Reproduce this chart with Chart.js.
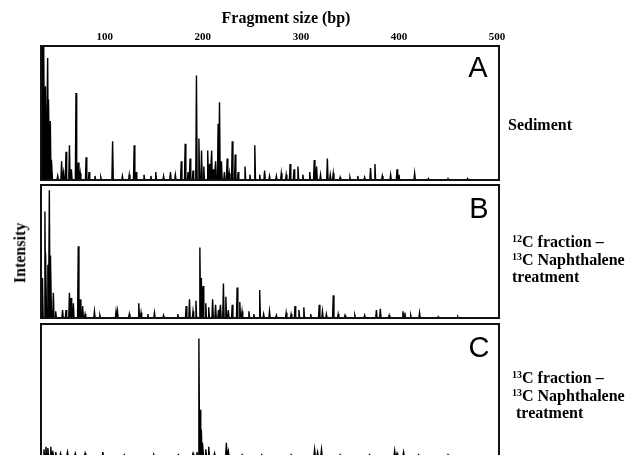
<!DOCTYPE html>
<html>
<head>
<meta charset="utf-8">
<script src="https://cdn.jsdelivr.net/npm/chart.js@4.4.1/dist/chart.umd.min.js"></script>
<style>
  body { margin: 0; width: 637px; height: 455px; overflow: hidden; background: #fff; position: relative; font-family: "Liberation Serif", "Times New Roman", serif; }
  canvas { position: absolute; left: 0; }
  .lbl { position: absolute; font-weight: bold; font-size: 16px; line-height: 17.5px; color: #000; white-space: nowrap; }
  .letter { position: absolute; font-family: "Liberation Sans", Arial, sans-serif; font-size: 29px; transform: translate(-50%, -50%); }
  sup { font-size: 10px; vertical-align: 5px; line-height: 0; }
</style>
</head>
<body>
<canvas id="chartA" width="637" height="181" style="top:0"></canvas>
<canvas id="chartB" width="637" height="135" style="top:184px"></canvas>
<canvas id="chartC" width="637" height="140" style="top:323px"></canvas>

<div class="lbl" style="left:286px; top:18px; transform:translate(-50%,-50%)">Fragment size (bp)</div>
<div class="lbl" style="left:20px; top:253px; transform:translate(-50%,-50%) rotate(-90deg)">Intensity</div>

<div class="letter" style="left:478px; top:67px">A</div>
<div class="letter" style="left:479px; top:208px">B</div>
<div class="letter" style="left:479px; top:347px">C</div>

<div class="lbl" style="left:508px; top:125px; transform:translateY(-50%)">Sediment</div>
<div class="lbl" style="left:512px; top:259px; transform:translateY(-50%)"><sup>12</sup>C fraction &ndash;<br><sup>13</sup>C Naphthalene<br>treatment</div>
<div class="lbl" style="left:512px; top:395px; transform:translateY(-50%)"><sup>13</sup>C fraction &ndash;<br><sup>13</sup>C Naphthalene<br>&nbsp;treatment</div>

<script>
// fragment size axis (bp)
const sizeMin = 35;
const sizeMax = 502;
const axisTicks = [100, 200, 300, 400, 500];

// A: sediment
const sizesA = [36.5, 38, 39.5, 41.8, 43, 44.5, 46, 52, 56, 58, 60.5, 64, 66, 70.7, 73, 75, 81, 84, 90, 96,
  108, 118, 125, 130, 132, 140, 147, 152, 160, 167, 172, 178, 182, 185, 187, 190, 193.5, 196, 198.7,
  201, 205, 207, 209, 211, 213, 215.6, 217, 219, 222, 224.8, 227, 230, 233, 236, 243, 248, 253, 258,
  263, 268, 275, 280, 285, 289, 293, 297, 302, 309, 313.6, 316, 320, 327, 330, 333, 340, 350, 358,
  365, 371, 375.5, 383, 391.5, 398, 400, 416, 430, 450, 470];
const intensA = [100, 110, 70, 91, 60, 44, 15, 3, 14, 6, 21, 26, 8, 65, 13, 5, 17, 6, 3, 2,
  29, 3, 4, 26, 6, 4, 3, 6, 3, 6, 4, 14, 27, 6, 16, 7, 78, 31, 22,
  10, 22, 12, 22, 8, 14, 42, 58, 14, 6, 16, 5, 29, 19, 6, 10, 4, 26, 4,
  7, 3, 3, 5, 4, 12, 8, 10, 4, 6, 15, 10, 4, 16, 4, 5, 2, 2, 3,
  2, 9, 12, 3, 4, 8, 4, 5, 1, 1, 1];

// B: 12C fraction, 13C naphthalene
const sizesB = [36.5, 39, 40, 42, 43.5, 45, 47.6, 50, 57, 60.5, 64, 65.6, 68, 73, 75, 77.5, 80, 89.5, 95,
  111.5, 113, 125, 134.7, 137, 144, 150.7, 160, 174.5, 183, 186.4, 190, 193, 197, 198.5, 200.3, 203,
  206, 210, 213, 216, 218, 221, 223.5, 226, 230, 235, 237.7, 240, 247, 252, 258, 262, 268, 275, 285,
  290, 294, 298, 303, 310, 318.7, 322, 326, 333, 338, 345, 355, 365, 377, 381, 390, 404, 406, 412,
  421, 440, 460];
const intensB = [30, 80, 49, 40, 96, 47, 19, 5, 6, 6, 19, 15, 11, 54, 14, 9, 3, 5, 2,
  5, 5, 3, 11, 4, 3, 4, 2, 3, 9, 14, 5, 13, 53, 30, 24, 11,
  8, 14, 10, 6, 10, 26, 16, 6, 10, 23, 12, 5, 5, 3, 21, 3, 5, 2, 4,
  3, 9, 6, 8, 3, 10, 5, 3, 17, 3, 2, 2, 2, 6, 7, 2, 5, 4, 2,
  4, 1, 1];

// C: 13C fraction, 13C naphthalene
const sizesC = [38, 40, 42, 45, 47, 50, 55, 62, 70, 80, 98, 120, 150, 175, 190, 194, 196, 197.3, 198.5,
  200, 203, 206, 212, 224, 226, 240, 260, 290, 314, 317, 321, 340, 370, 395.6, 398, 404.7, 420, 450];
const intensC = [5, 7, 6, 7, 4, 3, 2, 3, 2, 2, 3, 1, 1, 1, 2, 3, 89, 35, 20,
  10, 5, 7, 2, 10, 4, 1, 1, 1, 5, 3, 5, 1, 1, 4, 2, 3, 1, 1];

function buildTrace(sizes, heights) {
  const pts = [{ x: sizeMin, y: 0 }];
  sizes.map((s, i) => [s, heights[i]]).sort((a, b) => a[0] - b[0]).forEach(([s, h]) => {
    pts.push({ x: s - 0.7, y: 0 }, { x: s, y: h }, { x: s + 0.7, y: 0 });
  });
  pts.push({ x: sizeMax, y: 0 });
  return pts;
}

const frame = {
  id: 'frame',
  afterDraw(chart) {
    const a = chart.chartArea;
    const ctx = chart.ctx;
    ctx.save();
    ctx.strokeStyle = '#111';
    ctx.lineWidth = 2;
    ctx.strokeRect(a.left, a.top, a.right - a.left, a.bottom - a.top);
    ctx.restore();
  }
};

const makePanel = (id, sizes, heights, showAxis, padTop, padBottom) => {
  return new Chart(document.getElementById(id), {
    type: 'line',
    data: {
      datasets: [{
        data: buildTrace(sizes, heights),
        borderColor: '#000',
        backgroundColor: '#000',
        borderWidth: 1.4,
        fill: 'origin',
        pointRadius: 0,
        tension: 0
      }]
    },
    options: {
      responsive: false,
      animation: false,
      layout: { padding: { left: 41, right: 138, top: padTop, bottom: padBottom } },
      plugins: { legend: { display: false }, tooltip: { enabled: false } },
      scales: {
        x: {
          type: 'linear',
          position: 'top',
          min: sizeMin,
          max: sizeMax,
          display: showAxis,
          afterBuildTicks: s => { s.ticks = axisTicks.map(v => ({ value: v })); },
          afterFit: s => { if (showAxis) s.height = 15; },
          grid: { display: false, drawTicks: false },
          border: { display: false },
          ticks: { padding: 2, color: '#000', font: { family: 'Liberation Serif', size: 11, weight: 'bold' } }
        },
        y: { display: false, min: 0, max: 100 }
      }
    },
    plugins: [frame]
  });
};

makePanel('chartA', sizesA, intensA, true, 31, 1);
makePanel('chartB', sizesB, intensB, false, 1, 1);
makePanel('chartC', sizesC, intensC, false, 1, 7);
</script>
</body>
</html>
